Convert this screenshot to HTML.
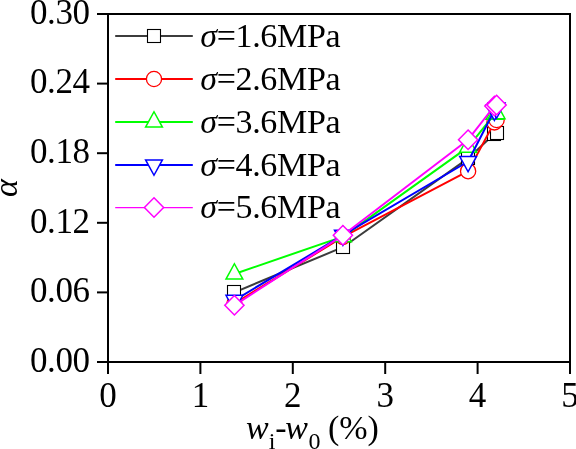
<!DOCTYPE html>
<html><head><meta charset="utf-8"><style>
html,body{margin:0;padding:0;background:#fff;overflow:hidden;}
svg{display:block;}
.t{filter:grayscale(1);font-family:"Liberation Serif",serif;font-size:34px;fill:#000;}
</style></head><body>
<svg width="576" height="449" viewBox="0 0 576 449">
<path d="M108.0,14 H570 V362.0 H108.0 Z" fill="none" stroke="#000" stroke-width="2"/>
<line x1="97" y1="362.00" x2="108.0" y2="362.00" stroke="#000" stroke-width="2"/>
<text x="89.6" y="371.70" text-anchor="end" class="t" style="font-size:35px;letter-spacing:-0.4px">0.00</text>
<line x1="97" y1="292.40" x2="108.0" y2="292.40" stroke="#000" stroke-width="2"/>
<text x="89.6" y="302.10" text-anchor="end" class="t" style="font-size:35px;letter-spacing:-0.4px">0.06</text>
<line x1="97" y1="222.80" x2="108.0" y2="222.80" stroke="#000" stroke-width="2"/>
<text x="89.6" y="232.50" text-anchor="end" class="t" style="font-size:35px;letter-spacing:-0.4px">0.12</text>
<line x1="97" y1="153.20" x2="108.0" y2="153.20" stroke="#000" stroke-width="2"/>
<text x="89.6" y="162.90" text-anchor="end" class="t" style="font-size:35px;letter-spacing:-0.4px">0.18</text>
<line x1="97" y1="83.60" x2="108.0" y2="83.60" stroke="#000" stroke-width="2"/>
<text x="89.6" y="93.30" text-anchor="end" class="t" style="font-size:35px;letter-spacing:-0.4px">0.24</text>
<line x1="97" y1="14.00" x2="108.0" y2="14.00" stroke="#000" stroke-width="2"/>
<text x="89.6" y="23.70" text-anchor="end" class="t" style="font-size:35px;letter-spacing:-0.4px">0.30</text>
<line x1="108.00" y1="362.0" x2="108.00" y2="374" stroke="#000" stroke-width="2"/>
<text x="108.00" y="406.5" text-anchor="middle" class="t" style="font-size:35px">0</text>
<line x1="200.40" y1="362.0" x2="200.40" y2="374" stroke="#000" stroke-width="2"/>
<text x="200.40" y="406.5" text-anchor="middle" class="t" style="font-size:35px">1</text>
<line x1="292.80" y1="362.0" x2="292.80" y2="374" stroke="#000" stroke-width="2"/>
<text x="292.80" y="406.5" text-anchor="middle" class="t" style="font-size:35px">2</text>
<line x1="385.20" y1="362.0" x2="385.20" y2="374" stroke="#000" stroke-width="2"/>
<text x="385.20" y="406.5" text-anchor="middle" class="t" style="font-size:35px">3</text>
<line x1="477.60" y1="362.0" x2="477.60" y2="374" stroke="#000" stroke-width="2"/>
<text x="477.60" y="406.5" text-anchor="middle" class="t" style="font-size:35px">4</text>
<line x1="570.00" y1="362.0" x2="570.00" y2="374" stroke="#000" stroke-width="2"/>
<text x="570.00" y="406.5" text-anchor="middle" class="t" style="font-size:35px">5</text>
<path d="M234.40,292.30 L342.90,247.20 L468.10,158.40 L494.40,133.80 L496.60,132.90" fill="none" stroke="#3c3c3c" stroke-width="2.0" stroke-linejoin="round"/>
<rect x="227.50" y="285.50" width="13" height="13" fill="#fff" stroke="#000" stroke-width="1.1"/>
<rect x="336.50" y="240.50" width="13" height="13" fill="#fff" stroke="#000" stroke-width="1.1"/>
<rect x="461.50" y="151.50" width="13" height="13" fill="#fff" stroke="#000" stroke-width="1.1"/>
<rect x="487.50" y="127.50" width="13" height="13" fill="#fff" stroke="#000" stroke-width="1.1"/>
<rect x="490.50" y="126.50" width="13" height="13" fill="#fff" stroke="#000" stroke-width="1.1"/>
<path d="M234.40,303.50 L342.90,236.90 L468.10,171.20 L494.40,122.40 L496.60,120.00" fill="none" stroke="#f00" stroke-width="2.0" stroke-linejoin="round"/>
<circle cx="234.40" cy="303.50" r="7.6" fill="#fff" stroke="#f00" stroke-width="1.3"/>
<circle cx="342.90" cy="236.90" r="7.6" fill="#fff" stroke="#f00" stroke-width="1.3"/>
<circle cx="468.10" cy="171.20" r="7.6" fill="#fff" stroke="#f00" stroke-width="1.3"/>
<circle cx="494.40" cy="122.40" r="7.6" fill="#fff" stroke="#f00" stroke-width="1.3"/>
<circle cx="496.60" cy="120.00" r="7.6" fill="#fff" stroke="#f00" stroke-width="1.3"/>
<path d="M234.40,274.00 L342.90,236.60 L468.10,147.10 L494.40,114.30 L496.60,113.60" fill="none" stroke="#0f0" stroke-width="2.0" stroke-linejoin="round"/>
<path d="M234.40,263.75L242.80,279.05L226.00,279.05Z" fill="#fff" stroke="#0f0" stroke-width="1.5"/>
<path d="M342.90,226.35L351.30,241.65L334.50,241.65Z" fill="#fff" stroke="#0f0" stroke-width="1.5"/>
<path d="M468.10,136.85L476.50,152.15L459.70,152.15Z" fill="#fff" stroke="#0f0" stroke-width="1.5"/>
<path d="M494.40,104.05L502.80,119.35L486.00,119.35Z" fill="#fff" stroke="#0f0" stroke-width="1.5"/>
<path d="M496.60,103.35L505.00,118.65L488.20,118.65Z" fill="#fff" stroke="#0f0" stroke-width="1.5"/>
<path d="M234.40,300.30 L342.90,235.20 L468.10,161.50 L494.40,110.20 L496.60,108.00" fill="none" stroke="#00f" stroke-width="2.0" stroke-linejoin="round"/>
<path d="M234.40,310.55L242.80,295.25L226.00,295.25Z" fill="#fff" stroke="#00f" stroke-width="1.5"/>
<path d="M342.90,245.45L351.30,230.15L334.50,230.15Z" fill="#fff" stroke="#00f" stroke-width="1.5"/>
<path d="M468.10,171.75L476.50,156.45L459.70,156.45Z" fill="#fff" stroke="#00f" stroke-width="1.5"/>
<path d="M494.40,120.45L502.80,105.15L486.00,105.15Z" fill="#fff" stroke="#00f" stroke-width="1.5"/>
<path d="M496.60,118.25L505.00,102.95L488.20,102.95Z" fill="#fff" stroke="#00f" stroke-width="1.5"/>
<path d="M234.40,305.30 L342.90,235.30 L468.10,139.70 L494.40,106.00 L496.60,105.00" fill="none" stroke="#f0f" stroke-width="2.0" stroke-linejoin="round"/>
<path d="M234.40,295.55L244.00,305.30L234.40,315.05L224.80,305.30Z" fill="#fff" stroke="#f0f" stroke-width="1.5"/>
<path d="M342.90,225.55L352.50,235.30L342.90,245.05L333.30,235.30Z" fill="#fff" stroke="#f0f" stroke-width="1.5"/>
<path d="M468.10,129.95L477.70,139.70L468.10,149.45L458.50,139.70Z" fill="#fff" stroke="#f0f" stroke-width="1.5"/>
<path d="M494.40,96.25L504.00,106.00L494.40,115.75L484.80,106.00Z" fill="#fff" stroke="#f0f" stroke-width="1.5"/>
<path d="M496.60,95.25L506.20,105.00L496.60,114.75L487.00,105.00Z" fill="#fff" stroke="#f0f" stroke-width="1.5"/>
<line x1="115.2" y1="36.00" x2="192.8" y2="36.00" stroke="#3c3c3c" stroke-width="2"/>
<rect x="147.50" y="29.50" width="13" height="13" fill="#fff" stroke="#000" stroke-width="1.1"/>
<text x="200.3" y="46.50" class="t" style="letter-spacing:-0.35px"><tspan font-style="italic">σ</tspan>=<tspan>1.6MPa</tspan></text>
<line x1="115.2" y1="79.00" x2="192.8" y2="79.00" stroke="#f00" stroke-width="2"/>
<circle cx="154.00" cy="79.00" r="7.6" fill="#fff" stroke="#f00" stroke-width="1.3"/>
<text x="200.3" y="89.50" class="t" style="letter-spacing:-0.35px"><tspan font-style="italic">σ</tspan>=<tspan>2.6MPa</tspan></text>
<line x1="115.2" y1="122.00" x2="192.8" y2="122.00" stroke="#0f0" stroke-width="2"/>
<path d="M154.00,111.75L162.40,127.05L145.60,127.05Z" fill="#fff" stroke="#0f0" stroke-width="1.5"/>
<text x="200.3" y="132.50" class="t" style="letter-spacing:-0.35px"><tspan font-style="italic">σ</tspan>=<tspan>3.6MPa</tspan></text>
<line x1="115.2" y1="165.00" x2="192.8" y2="165.00" stroke="#00f" stroke-width="2"/>
<path d="M154.00,175.25L162.40,159.95L145.60,159.95Z" fill="#fff" stroke="#00f" stroke-width="1.5"/>
<text x="200.3" y="175.50" class="t" style="letter-spacing:-0.35px"><tspan font-style="italic">σ</tspan>=<tspan>4.6MPa</tspan></text>
<line x1="115.2" y1="207.55" x2="192.8" y2="207.55" stroke="#f0f" stroke-width="1.3"/>
<path d="M154.00,197.80L163.60,207.55L154.00,217.30L144.40,207.55Z" fill="#fff" stroke="#f0f" stroke-width="1.5"/>
<text x="200.3" y="218.05" class="t" style="letter-spacing:-0.35px"><tspan font-style="italic">σ</tspan>=<tspan>5.6MPa</tspan></text>
<text transform="translate(17,188)  rotate(-90)" text-anchor="middle" class="t" font-style="italic">α</text>
<text x="246" y="438.5" class="t"><tspan font-style="italic">w</tspan><tspan style="font-size:24px" dy="10.5">i</tspan><tspan dy="-10.5">-</tspan><tspan font-style="italic" dx="-1.5">w</tspan><tspan style="font-size:24px" dy="10.5" dx="0.7">0</tspan><tspan dy="-10.5" dx="-1.2"> (%)</tspan></text>
</svg>
</body></html>
